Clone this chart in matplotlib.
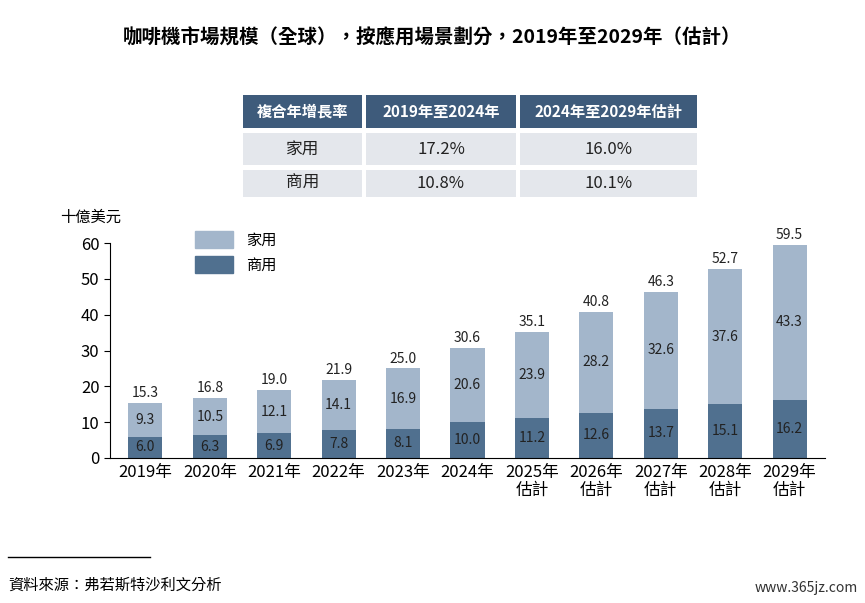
import matplotlib.pyplot as plt
from matplotlib.patches import Rectangle, Patch
from matplotlib.lines import Line2D

plt.rcParams['font.family'] = ['Noto Sans CJK TC', 'DejaVu Sans']

years = ['2019年', '2020年', '2021年', '2022年', '2023年', '2024年',
         '2025年\n估計', '2026年\n估計', '2027年\n估計', '2028年\n估計', '2029年\n估計']
commercial = [6.0, 6.3, 6.9, 7.8, 8.1, 10.0, 11.2, 12.6, 13.7, 15.1, 16.2]
household = [9.3, 10.5, 12.1, 14.1, 16.9, 20.6, 23.9, 28.2, 32.6, 37.6, 43.3]
totals = [15.3, 16.8, 19.0, 21.9, 25.0, 30.6, 35.1, 40.8, 46.3, 52.7, 59.5]

cagr_header = ['複合年增長率', '2019年至2024年', '2024年至2029年估計']
cagr_rows = [['家用', '17.2%', '16.0%'], ['商用', '10.8%', '10.1%']]

light = '#a3b6cb'
dark = '#50708f'
W, H = 865, 603

fig = plt.figure(figsize=(8.65, 6.03), dpi=100)
fig.text(0.5, 1 - 38 / H, '咖啡機市場規模（全球），按應用場景劃分，2019年至2029年（估計）',
         ha='center', va='center', fontsize=14, fontweight='bold')

# CAGR table
cols = [(243, 362), (366, 516), (520, 697)]
rows = [(95, 128), (133, 165), (170, 197)]
for r, (y0, y1) in enumerate(rows):
    texts = cagr_header if r == 0 else cagr_rows[r - 1]
    for c, (x0, x1) in enumerate(cols):
        fc = '#3e5b7b' if r == 0 else '#e4e7ec'
        fig.patches.append(Rectangle((x0 / W, 1 - y1 / H), (x1 - x0) / W, (y1 - y0) / H,
                                     transform=fig.transFigure, facecolor=fc, edgecolor='none'))
        fig.text((x0 + x1) / 2 / W, 1 - (y0 + y1) / 2 / H, texts[c], ha='center', va='center',
                 fontsize=11 if r == 0 else 12, color='white' if r == 0 else '#222222',
                 fontweight='bold' if r == 0 else 'normal')

ax = fig.add_axes([110 / W, 1 - 458 / H, 715 / W, 215 / H])
x = range(len(years))
ax.bar(x, commercial, width=0.53, color=dark)
ax.bar(x, household, bottom=commercial, width=0.53, color=light)
for i in x:
    ax.text(i, commercial[i] / 2, f'{commercial[i]:.1f}', ha='center', va='center', fontsize=10, color='#222222')
    ax.text(i, commercial[i] + household[i] / 2, f'{household[i]:.1f}', ha='center', va='center', fontsize=10, color='#222222')
    ax.text(i, totals[i] + 0.8, f'{totals[i]:.1f}', ha='center', va='bottom', fontsize=10, color='#222222')

ax.set_ylim(0, 60)
ax.set_xlim(-0.55, len(years) - 0.45)
ax.set_yticks(range(0, 61, 10))
ax.set_xticks(list(x))
ax.set_xticklabels(years, fontsize=12, linespacing=1.1)
ax.tick_params(axis='y', labelsize=12, length=4)
ax.tick_params(axis='x', length=0, pad=4)
for s in ['top', 'right']:
    ax.spines[s].set_visible(False)
ax.text(-0.07, 1.12, '十億美元', transform=ax.transAxes, fontsize=11, ha='left', va='center')
ax.legend(handles=[Patch(color=light, label='家用'), Patch(color=dark, label='商用')],
          loc='upper left', bbox_to_anchor=(0.1, 1.12), frameon=False, fontsize=11,
          handlelength=2.5, handleheight=1.3)

fig.lines.append(Line2D([8 / W, 150 / W], [1 - 557 / H] * 2, transform=fig.transFigure, color='black', lw=1))
fig.text(8 / W, 1 - 585 / H, '資料來源：弗若斯特沙利文分析', fontsize=11, style='italic', va='center')
fig.text(858 / W, 1 - 588 / H, 'www.365jz.com', fontsize=10, ha='right', va='center', color='#333333')

fig.savefig('out.png', dpi=100)
